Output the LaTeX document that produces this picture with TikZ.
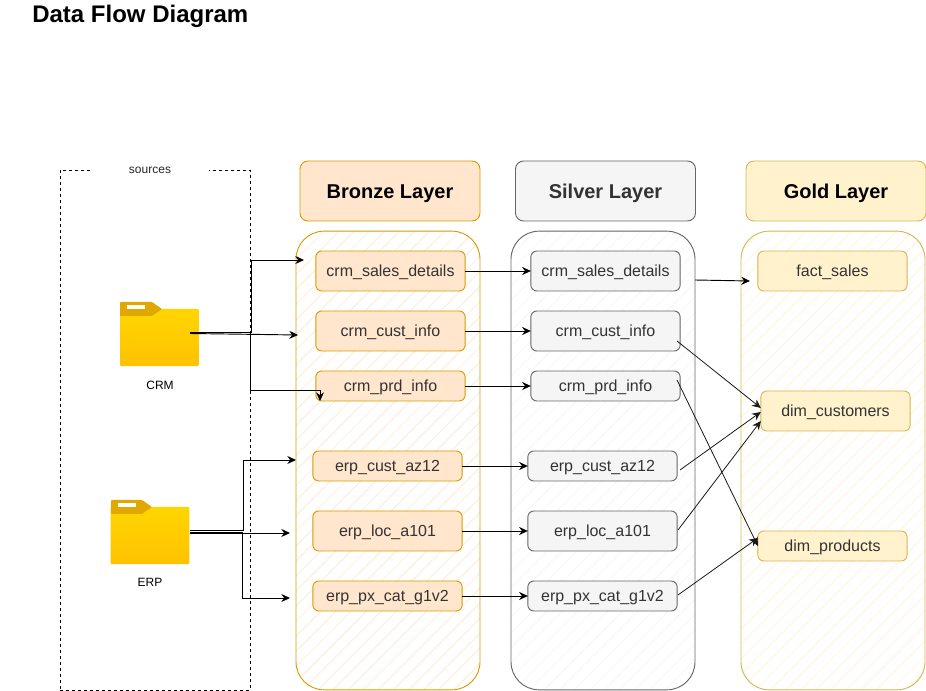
\documentclass[tikz,border=0pt]{standalone}
\usepackage{fontspec}
\setmainfont{Liberation Sans}
\usetikzlibrary{arrows.meta,patterns.meta}
\definecolor{bronze-fill}{HTML}{FFE6CC}
\definecolor{bronze-line}{HTML}{D79B00}
\definecolor{silver-fill}{HTML}{F5F5F5}
\definecolor{silver-line}{HTML}{666666}
\definecolor{gold-fill}{HTML}{FFF2CC}
\definecolor{gold-line}{HTML}{D6B656}
\definecolor{folder-top}{HTML}{FFD500}
\definecolor{folder-bottom}{HTML}{FFC200}
\definecolor{folder-tab}{HTML}{E0A800}
\tikzset{
    layer-title/.style = {rectangle, rounded corners=6pt, line width=.7pt, minimum width=135pt, minimum height=45pt, outer sep=0pt, text height=12pt, text depth=0pt, font=\fontsize{15}{18}\selectfont\bfseries},
    layer-box/.style = {rectangle, rounded corners=21pt, line width=.7pt, minimum width=138pt, minimum height=344pt, outer sep=0pt},
    table-box/.style = {rectangle, rounded corners=4.5pt, line width=.7pt, minimum width=112pt, outer sep=0pt, text=black!80, text height=9.5pt, text depth=1.2pt, font=\fontsize{12}{14}\selectfont},
    bronze/.style = {draw=bronze-line, fill=bronze-fill},
    silver/.style = {draw=silver-line, fill=silver-fill, text=black!80},
    gold/.style = {draw=gold-line, fill=gold-fill},
    bronze-hatch/.style = {draw=bronze-line, pattern={Lines[angle=45, distance=8pt, line width=.5pt]}, pattern color=bronze-fill},
    silver-hatch/.style = {draw=silver-line, pattern={Lines[angle=45, distance=8pt, line width=.5pt]}, pattern color=silver-fill},
    gold-hatch/.style = {draw=gold-line, pattern={Lines[angle=45, distance=8pt, line width=.5pt]}, pattern color=gold-fill},
    folder/.style = {rectangle, rounded corners=.8pt, minimum width=59pt, minimum height=43pt, outer sep=0pt, top color=folder-top, bottom color=folder-bottom},
    folder-name/.style = {font=\fontsize{9}{11}\selectfont, text=black},
    flow/.style = {-{Stealth[length=6.5pt, width=6pt]}, line width=.7pt},
    flow-thin/.style = {flow, line width=.6pt, black!90},
}

\begin{document}
\begin{tikzpicture}[x=.75pt, y=-.75pt]
\useasboundingbox (0,0) rectangle (926,691);
\node[anchor=west, font=\fontsize{18}{22}\selectfont\bfseries, inner sep=0pt] (title) at (32,16.5) {Data Flow Diagram};

% sources
\node[draw, dash pattern=on 2.5pt off 2pt, line width=.6pt, rectangle, minimum width=142.5pt, minimum height=390pt, outer sep=0pt] (sources) at (155,430) {};
\node[fill=white, minimum width=88pt, inner ysep=1pt, font=\fontsize{9}{11}\selectfont, text=black!85] (sources-label) at (150,170) {sources};

% layers
\node[layer-title, bronze] (bronze-title) at (390,191) {Bronze Layer};
\node[layer-title, silver] (silver-title) at (605.5,191) {Silver Layer};
\node[layer-title, gold] (gold-title) at (836,191) {Gold Layer};
\node[layer-box, bronze-hatch] (bronze-layer) at (388,460.5) {};
\node[layer-box, silver-hatch] (silver-layer) at (603,460.5) {};
\node[layer-box, gold-hatch] (gold-layer) at (833,460.5) {};

% bronze tables
\node[table-box, bronze, minimum height=30pt] (b-sales) at (390.5,271) {crm\_sales\_details};
\node[table-box, bronze, minimum height=30pt] (b-cust) at (390.5,331) {crm\_cust\_info};
\node[table-box, bronze, minimum height=22.5pt] (b-prd) at (390.5,386) {crm\_prd\_info};
\node[table-box, bronze, minimum height=22.5pt] (b-az12) at (387.5,466) {erp\_cust\_az12};
\node[table-box, bronze, minimum height=30pt] (b-loc) at (387.5,531) {erp\_loc\_a101};
\node[table-box, bronze, minimum height=22.5pt] (b-px) at (387.5,596) {erp\_px\_cat\_g1v2};

% silver tables
\node[table-box, silver, minimum height=30pt] (s-sales) at (605.5,271) {crm\_sales\_details};
\node[table-box, silver, minimum height=30pt] (s-cust) at (605.5,331) {crm\_cust\_info};
\node[table-box, silver, minimum height=22.5pt] (s-prd) at (605.5,386) {crm\_prd\_info};
\node[table-box, silver, minimum height=22.5pt] (s-az12) at (602.5,466) {erp\_cust\_az12};
\node[table-box, silver, minimum height=30pt] (s-loc) at (602.5,531) {erp\_loc\_a101};
\node[table-box, silver, minimum height=22.5pt] (s-px) at (602.5,596) {erp\_px\_cat\_g1v2};

% gold tables
\node[table-box, gold, minimum height=30pt] (g-sales) at (832.5,271) {fact\_sales};
\node[table-box, gold, minimum height=30pt] (g-cust) at (835.5,411) {dim\_customers};
\node[table-box, gold, minimum height=22.5pt] (g-prod) at (832.5,546) {dim\_products};

% folders
\node[folder] (crm) at (159.5,337.5) {};
\fill[folder-tab, rounded corners=.6pt] (120,316) -- (120,302) -- (152,302) -- (162,309) -- (152,316) -- cycle;
\fill[white] (127,305.5) rectangle (145,309);
\node[folder] (erp) at (150,535.5) {};
\fill[folder-tab, rounded corners=.6pt] (111,514) -- (111,500) -- (142,500) -- (152,507) -- (142,514) -- cycle;
\fill[white] (118,503.5) rectangle (136,507);
\node[folder-name] (crm-label) at (160,385) {CRM};
\node[folder-name] (erp-label) at (150,582) {ERP};

% free arrow ends
\coordinate (crm-out) at (190,332);
\coordinate (erp-out) at (190,530.5);
\coordinate (sales-in) at (304,260);
\coordinate (cust-in) at (298,335);
\coordinate (prd-in) at (320,401);
\coordinate (az12-in) at (296,460);
\coordinate (loc-in) at (290,533);
\coordinate (px-in) at (290,598);
\coordinate (silver-out) at (695,280);
\coordinate (fact-in) at (750,281);

% source flows
\draw[flow] (crm-out) -| (251,260) -- (sales-in);
\draw[flow] (crm-out) ++(0,1.5) -- (cust-in);
\draw[flow] (crm-out) -| (250,390) -| (prd-in);
\draw[flow] (erp-out) -| (243,460) -- (az12-in);
\draw[flow] (190,533) -- (loc-in);
\draw[flow] (190,532) -| (242,598) -- (px-in);

% bronze to silver
\draw[flow] (b-sales) -- (s-sales);
\draw[flow] (b-cust) -- (s-cust);
\draw[flow] (b-prd) -- (s-prd);
\draw[flow] (b-az12) -- (s-az12);
\draw[flow] (b-loc) -- (s-loc);
\draw[flow] (b-px) -- (s-px);

% silver to gold
\draw[flow] (silver-out) -- (fact-in);
\draw[flow-thin] (677,341) -- (g-cust.west |- 0,408);
\draw[flow-thin] (677,380) -- (g-prod.west |- 0,546);
\draw[flow-thin] (680,470) -- (g-cust.west |- 0,412);
\draw[flow-thin] (678,530) -- (g-cust.west |- 0,421);
\draw[flow-thin] (678,595) -- (g-prod.west |- 0,538);
\end{tikzpicture}
\end{document}
